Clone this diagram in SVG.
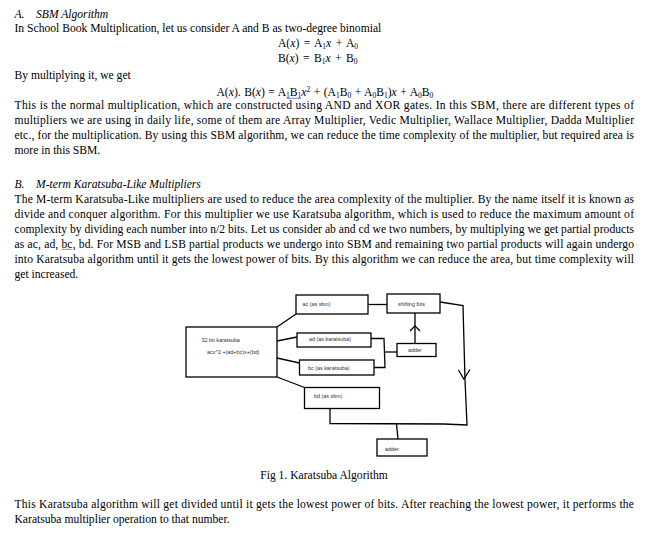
<svg xmlns="http://www.w3.org/2000/svg" width="662" height="533" viewBox="0 0 662 533">
<style>
.t{font-family:"Liberation Serif","Times New Roman",serif;font-size:11.6px;fill:#000}
.i{font-style:italic}
.s{font-size:7.5px}
.d{font-family:"Liberation Sans",Arial,sans-serif;font-size:5.4px;fill:#333}
.b{fill:#fff;stroke:#000;stroke-width:1.3}
.c{fill:none;stroke:#000;stroke-width:1.3}
</style>
<rect width="662" height="533" fill="#fff"/>
<g id="text-top">
<text class="t i" x="14.5" y="17.5">A.</text>
<text class="t i" x="36" y="17.5">SBM Algorithm</text>
<text class="t" x="14.5" y="32">In School Book Multiplication, let us consider A and B as two-degree binomial</text>
<text class="t" x="278" y="47" word-spacing="1.5">A(<tspan class="i">x</tspan>) = A<tspan class="s" dy="2">1</tspan><tspan class="i" dy="-2">x</tspan> + A<tspan class="s" dy="2">0</tspan></text>
<text class="t" x="278" y="62" word-spacing="1.5">B(<tspan class="i">x</tspan>) = B<tspan class="s" dy="2">1</tspan><tspan class="i" dy="-2">x</tspan> + B<tspan class="s" dy="2">0</tspan></text>
<text class="t" x="14.5" y="78.5">By multiplying it, we get</text>
<text class="t" x="216.5" y="95.5" word-spacing="0.6">A(<tspan class="i">x</tspan>). B(<tspan class="i">x</tspan>) = A<tspan class="s" dy="2">1</tspan><tspan dy="-2">B</tspan><tspan class="s" dy="2">1</tspan><tspan class="i" dy="-2">x</tspan><tspan class="s" dy="-4">2</tspan><tspan dy="4"> + (A</tspan><tspan class="s" dy="2">1</tspan><tspan dy="-2">B</tspan><tspan class="s" dy="2">0</tspan><tspan dy="-2"> + A</tspan><tspan class="s" dy="2">0</tspan><tspan dy="-2">B</tspan><tspan class="s" dy="2">1</tspan><tspan dy="-2">)</tspan><tspan class="i">x</tspan> + A<tspan class="s" dy="2">0</tspan><tspan dy="-2">B</tspan><tspan class="s" dy="2">0</tspan></text>
<path d="M286.5,99 l1.2,-1.2 l1.2,1.2 l1.2,-1.2 l1.2,1.2 l1.2,-1.2 l1.2,1.2 l1.2,-1.2 l1.2,1.2 l1.2,-1.2 l1.2,1.2 l1.2,-1.2 l1.2,1.2" fill="none" stroke="#3b5bdb" stroke-width="0.8"/>
<text class="t" x="14.5" y="108.5" textLength="619.5" lengthAdjust="spacing">This is the normal multiplication, which are constructed using AND and XOR gates. In this SBM, there are different types of</text>
<text class="t" x="14.5" y="123.5" textLength="619.5" lengthAdjust="spacing">multipliers we are using in daily life, some of them are Array Multiplier, Vedic Multiplier, Wallace Multiplier, Dadda Multiplier</text>
<text class="t" x="14.5" y="138.5" textLength="619.5" lengthAdjust="spacing">etc., for the multiplication. By using this SBM algorithm, we can reduce the time complexity of the multiplier, but required area is</text>
<text class="t" x="14.5" y="153.5">more in this SBM.</text>
<text class="t i" x="14.5" y="187.5">B.</text>
<text class="t i" x="36" y="187.5">M-term Karatsuba-Like Multipliers</text>
<text class="t" x="14.5" y="202.5" textLength="619.5" lengthAdjust="spacing">The M-term Karatsuba-Like multipliers are used to reduce the area complexity of the multiplier. By the name itself it is known as</text>
<text class="t" x="14.5" y="217.5" textLength="619.5" lengthAdjust="spacing">divide and conquer algorithm. For this multiplier we use Karatsuba algorithm, which is used to reduce the maximum amount of</text>
<text class="t" x="14.5" y="232.5" textLength="619.5" lengthAdjust="spacing">complexity by dividing each number into n/2 bits. Let us consider ab and cd we two numbers, by multiplying we get partial products</text>
<text class="t" x="14.5" y="247.5" textLength="619.5" lengthAdjust="spacing">as ac, ad, bc, bd. For MSB and LSB partial products we undergo into SBM and remaining two partial products will again undergo</text>
<path d="M62,250 l1.2,-1.2 l1.2,1.2 l1.2,-1.2 l1.2,1.2 l1.2,-1.2 l1.2,1.2 l1.2,-1.2 l1.2,1.2" fill="none" stroke="#e03131" stroke-width="0.8"/>
<text class="t" x="14.5" y="262.5" textLength="619.5" lengthAdjust="spacing">into Karatsuba algorithm until it gets the lowest power of bits. By this algorithm we can reduce the area, but time complexity will</text>
<text class="t" x="14.5" y="277.5">get increased.</text>
</g>
<g id="connectors">
<path class="c" d="M277,327 L296,314"/>
<path class="c" d="M277,341 L297,337"/>
<path class="c" d="M277,358 L299.5,363"/>
<path class="c" d="M277,377 L304.5,387.5"/>
<path class="c" d="M368,304.5 L387,304.5"/>
<path class="c" d="M371,338.5 L384,338.5 L385,367.5 L374,367.5"/>
<path class="c" d="M385,352 L397,352"/>
<path class="c" d="M415,343.5 L415,313"/>
<path class="c" d="M410,331 L415,326 L420,331"/>
<path class="c" d="M440,302 L463,305.5 L465,380 L467,425 L444,424 L330,423.5 L330,408.5"/>
<path class="c" d="M458.5,370 L463.8,379 L470,369.5"/>
<path class="c" d="M396.5,424 L398,439"/>
</g>
<g id="main">
<rect class="b" x="186" y="327" width="91" height="50"/>
<text class="d" x="201.5" y="342">32 bit karatsuba</text>
<text class="d" x="207" y="353.5">acx^2 +(ad+bc)x+(bd)</text>
</g>
<g id="ac">
<rect class="b" x="296" y="295" width="72" height="19"/>
<text class="d" x="302.5" y="306">ac (as sbm)</text>
</g>
<g id="shifting">
<rect class="b" x="387" y="294" width="53" height="19"/>
<text class="d" x="398" y="305.5">shifting bits</text>
</g>
<g id="ad">
<rect class="b" x="297" y="333" width="74" height="14"/>
<text class="d" x="309" y="340.5">ad (as karatsuba)</text>
</g>
<g id="bc">
<rect class="b" x="299.5" y="360" width="74.5" height="15"/>
<text class="d" x="308" y="369.5">bc (as karatsuba)</text>
</g>
<g id="adder1">
<rect class="b" x="397" y="343.5" width="39" height="13"/>
<text class="d" x="408" y="352">adder</text>
</g>
<g id="bd">
<rect class="b" x="304.5" y="387.5" width="75" height="21"/>
<text class="d" x="314" y="397.5">bd (as sbm)</text>
</g>
<g id="adder2">
<rect class="b" x="377" y="439" width="50" height="17"/>
<text class="d" x="385" y="450.5">adder</text>
</g>
<g id="text-bottom">
<text class="t" x="324" y="479" text-anchor="middle">Fig 1. Karatsuba Algorithm</text>
<text class="t" x="14.5" y="507.5" textLength="619.5" lengthAdjust="spacing">This Karatsuba algorithm will get divided until it gets the lowest power of bits. After reaching the lowest power, it performs the</text>
<text class="t" x="14.5" y="522.5">Karatsuba multiplier operation to that number.</text>
</g>
</svg>
